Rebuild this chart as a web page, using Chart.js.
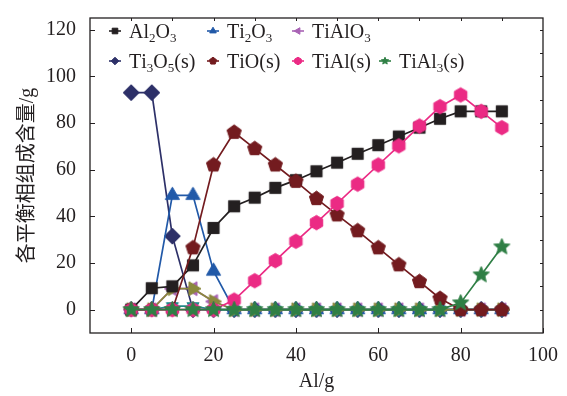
<!DOCTYPE html>
<html>
<head>
<meta charset="utf-8">
<script src="https://cdn.jsdelivr.net/npm/chart.js@4/dist/chart.umd.min.js"></script>
<style>
  html, body { margin: 0; padding: 0; background: #fff; }
  #wrap { width: 567px; height: 396px; position: relative; }
</style>
</head>
<body>
<div id="wrap"><canvas id="c" width="567" height="396"></canvas></div>
<script>
// Al addition (g) and equilibrium amount of each phase (g)
const alMass  = [0, 5, 10, 15, 20, 25, 30, 35, 40, 45, 50, 55, 60, 65, 70, 75, 80, 85, 90];
const al2o3   = [0, 9.2, 10, 19, 35, 44.3, 48, 52.2, 55.5, 59.3, 63, 66.8, 70.5, 74.2, 78, 81.8, 85, 85, 85];
const ti2o3   = [0, 0, 49, 49, 16.5, 0, 0, 0, 0, 0, 0, 0, 0, 0, 0, 0, 0, 0, 0];
const tialo3  = [0, 0, 9, 9, 3.5, 0, 0, 0, 0, 0, 0, 0, 0, 0, 0, 0, 0, 0, 0];
const ti3o5   = [93, 93, 31.5, 0, 0, 0, 0, 0, 0, 0, 0, 0, 0, 0, 0, 0, 0, 0, 0];
const tio     = [0, 0, 0, 26.5, 62, 76, 69, 62, 55, 47.6, 40.6, 33.8, 26.5, 19.2, 12, 4.8, 0, 0, 0];
const tial    = [0, 0, 0, 0, 0, 4.1, 12.4, 21, 29.3, 37.3, 45.5, 53.8, 62, 70.2, 78.7, 87, 92, 85, 78];
const tial3   = [0, 0, 0, 0, 0, 0, 0, 0, 0, 0, 0, 0, 0, 0, 0, 0, 2.9, 14.9, 26.9];
const phaseA  = [0, 0, 9, 9, 3.5, 0, 0, 0, 0, 0, 0, 0, 0, 0, 0, 0, 0, 0, 0];
const phaseB  = [0, 0, 1.5, 1.5, 0, 0, 0, 0, 0, 0, 0, 0, 0, 0, 0, 0, 0, 0, 0];

const xTicks = [0, 20, 40, 60, 80, 100];
const yTicks = [0, 20, 40, 60, 80, 100, 120];

const SERIF = '"Liberation Serif", "Times New Roman", serif';
const INK = '#231f20';

// Filled marker outlines
function shapePath(ctx, kind, x, y, r) {
  ctx.beginPath();
  const poly = (n, startDeg) => {
    for (let i = 0; i < n; i++) {
      const a = (startDeg * Math.PI / 180) + i * 2 * Math.PI / n;
      const px = x + r * Math.cos(a), py = y + r * Math.sin(a);
      if (i === 0) ctx.moveTo(px, py); else ctx.lineTo(px, py);
    }
  };
  switch (kind) {
    case 'square': ctx.rect(x - r, y - r, 2 * r, 2 * r); break;
    case 'diamond': ctx.moveTo(x, y - r); ctx.lineTo(x + r, y); ctx.lineTo(x, y + r); ctx.lineTo(x - r, y); break;
    case 'triUp': poly(3, -90); break;
    case 'triDown': poly(3, 90); break;
    case 'triLeft': poly(3, 180); break;
    case 'triRight': poly(3, 0); break;
    case 'pentagon': poly(5, -90); break;
    case 'hexagon': poly(6, -90); break;
    case 'star':
      for (let i = 0; i < 10; i++) {
        const a = -Math.PI / 2 + i * Math.PI / 5;
        const rr = i % 2 === 0 ? r : r * 0.45;
        const px = x + rr * Math.cos(a), py = y + rr * Math.sin(a);
        if (i === 0) ctx.moveTo(px, py); else ctx.lineTo(px, py);
      }
      break;
  }
  ctx.closePath();
}

function drawShape(ctx, kind, x, y, r, color) {
  ctx.save();
  shapePath(ctx, kind, x, y, r);
  ctx.fillStyle = color;
  ctx.strokeStyle = color;
  ctx.lineWidth = 1;
  ctx.fill();
  ctx.stroke();
  ctx.restore();
}

function markerCanvas(kind, r, color) {
  const size = Math.ceil(2 * r + 4);
  const cv = document.createElement('canvas');
  cv.width = size; cv.height = size;
  drawShape(cv.getContext('2d'), kind, size / 2, size / 2, r, color);
  return cv;
}

// label, values, colour, marker, marker size, drawing order, legend slot
const series = [
  { label: 'TiAl₃(s)', data: tial3,  color: '#2f7f45', shape: 'star',     r: 8.5, order: 0, legend: [3, 1] },
  { label: 'TiAl(s)',  data: tial,   color: '#eb2a84', shape: 'hexagon',  r: 7.2, order: 1, legend: [2, 1] },
  { label: 'TiO(s)',   data: tio,    color: '#731b1f', shape: 'pentagon', r: 7.5, order: 2, legend: [1, 1] },
  { label: 'Al₂O₃',    data: al2o3,  color: '#231f20', shape: 'square',   r: 5.6, order: 3, legend: [0, 0] },
  { label: '',         data: phaseA, color: '#8b893d', shape: 'triRight', r: 8,   order: 4, legend: null },
  { label: ' ',        data: phaseB, color: '#1e8b8b', shape: 'triDown',  r: 7,   order: 5, legend: null },
  { label: 'Ti₂O₃',    data: ti2o3,  color: '#2159a8', shape: 'triUp',    r: 8.2, order: 6, legend: [1, 0] },
  { label: 'Ti₃O₅(s)', data: ti3o5,  color: '#2d3068', shape: 'diamond',  r: 8,   order: 7, legend: [0, 1] },
  { label: 'TiAlO₃',   data: tialo3, color: '#a862b4', shape: 'triLeft',  r: 8,   order: 8, legend: [2, 0] }
];

const datasets = series.map(s => ({
  label: s.label,
  data: s.data.map((v, i) => ({ x: alMass[i], y: v })),
  borderColor: s.color,
  backgroundColor: s.color,
  borderWidth: 1.7,
  pointStyle: markerCanvas(s.shape, s.r, s.color),
  pointRadius: s.r,
  order: s.order,
  tension: 0,
  clip: false
}));

// Text with Unicode subscript digits drawn as lowered small digits
const SUB = '₀₁₂₃₄₅₆₇₈₉';
function drawRichText(ctx, text, x, baseline) {
  let cx = x;
  for (const ch of text) {
    const k = SUB.indexOf(ch);
    if (k >= 0) {
      ctx.font = '13px ' + SERIF;
      ctx.fillText(String(k), cx, baseline + 4);
      cx += ctx.measureText(String(k)).width;
    } else {
      ctx.font = '20px ' + SERIF;
      ctx.fillText(ch, cx, baseline);
      cx += ctx.measureText(ch).width;
    }
  }
}

const legendCols = [25, 123, 208, 295];
const legendRows = [13, 43];

const legendPlugin = {
  id: 'phaseLegend',
  afterDraw(chart) {
    const ctx = chart.ctx, area = chart.chartArea;
    ctx.save();
    ctx.textBaseline = 'alphabetic';
    ctx.textAlign = 'left';
    series.forEach(s => {
      if (!s.legend) return;
      const mx = area.left + legendCols[s.legend[0]];
      const my = area.top + legendRows[s.legend[1]];
      ctx.strokeStyle = s.color;
      ctx.lineWidth = 1.6;
      ctx.beginPath();
      ctx.moveTo(mx - 6, my);
      ctx.lineTo(mx + 6, my);
      ctx.stroke();
      drawShape(ctx, s.shape, mx, my, s.shape === 'square' ? 2.8 : 3.8, s.color);
      ctx.fillStyle = INK;
      drawRichText(ctx, s.label, mx + 14, my + 7);
    });
    ctx.restore();
  }
};

// Box frame with inward ticks: major on bottom/left, minor on top/right
const framePlugin = {
  id: 'frame',
  afterDatasetsDraw(chart) {
    const ctx = chart.ctx, a = chart.chartArea;
    const xs = chart.scales.x, ys = chart.scales.y;
    ctx.save();
    ctx.strokeStyle = INK;
    ctx.lineWidth = 1.3;
    ctx.strokeRect(a.left, a.top, a.right - a.left, a.bottom - a.top);
    ctx.lineWidth = 1;
    ctx.beginPath();
    xTicks.forEach(v => {
      const px = Math.round(xs.getPixelForValue(v)) + 0.5;
      ctx.moveTo(px, a.bottom); ctx.lineTo(px, a.bottom - 5);
    });
    yTicks.forEach(v => {
      const py = Math.round(ys.getPixelForValue(v)) + 0.5;
      ctx.moveTo(a.left, py); ctx.lineTo(a.left + 5, py);
    });
    for (let v = xs.min + 10; v < xs.max; v += 10) {
      const px = Math.round(xs.getPixelForValue(v)) + 0.5;
      ctx.moveTo(px, a.top); ctx.lineTo(px, a.top + 3);
    }
    for (let v = 0; v < ys.max; v += 10) {
      const py = Math.round(ys.getPixelForValue(v)) + 0.5;
      ctx.moveTo(a.right, py); ctx.lineTo(a.right - 3, py);
    }
    ctx.stroke();
    ctx.restore();
  }
};

new Chart(document.getElementById('c'), {
  type: 'line',
  data: { datasets },
  options: {
    responsive: false,
    animation: false,
    devicePixelRatio: 1,
    layout: { padding: { left: 0, right: 24, top: 7, bottom: 0 } },
    plugins: { legend: { display: false }, tooltip: { enabled: false } },
    scales: {
      x: {
        type: 'linear', min: -10, max: 100,
        grid: { display: false }, border: { display: false },
        afterBuildTicks: s => { s.ticks = xTicks.map(v => ({ value: v })); },
        afterFit: s => { s.height = 63; },
        ticks: { font: { family: SERIF, size: 20 }, color: INK, padding: 3, maxRotation: 0, autoSkip: false },
        title: { display: true, text: 'Al/g', color: INK, font: { family: SERIF, size: 20 }, padding: { top: 0, bottom: 2 } }
      },
      y: {
        type: 'linear', min: -10, max: 125,
        grid: { display: false }, border: { display: false },
        afterBuildTicks: s => { s.ticks = yTicks.map(v => ({ value: v })); },
        afterFit: s => { s.width = 90; },
        ticks: { font: { family: SERIF, size: 20 }, color: INK, padding: 6, autoSkip: false },
        title: { display: true, text: '各平衡相组成含量/g', color: INK,
                 font: { family: SERIF + ', "Noto Sans CJK SC"', size: 20 }, padding: { top: 16, bottom: 0 } }
      }
    }
  },
  plugins: [framePlugin, legendPlugin]
});
</script>
</body>
</html>
